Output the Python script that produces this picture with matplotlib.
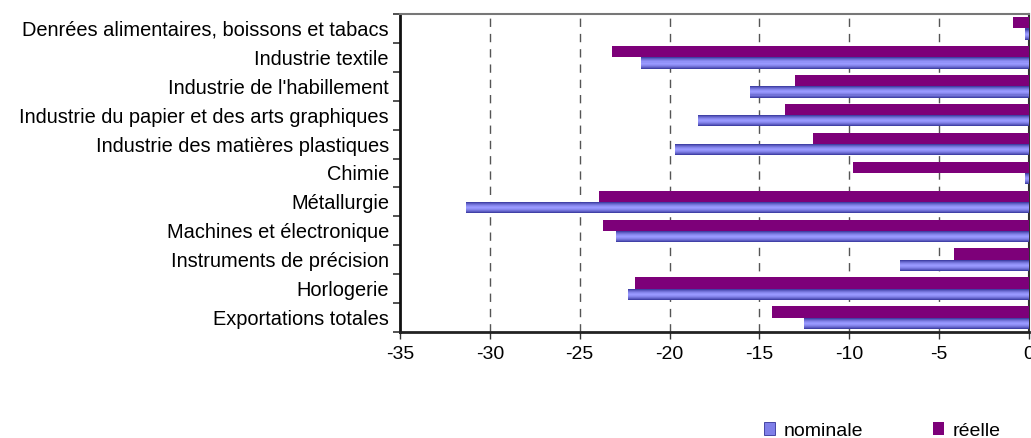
import matplotlib
matplotlib.use("Agg")
import matplotlib.pyplot as plt
import numpy as np
from matplotlib.patches import Patch
from matplotlib.colors import to_rgb

plt.rcParams['font.family'] = ['Liberation Sans', 'DejaVu Sans']

categories = [
    "Denrées alimentaires, boissons et tabacs",
    "Industrie textile",
    "Industrie de l'habillement",
    "Industrie du papier et des arts graphiques",
    "Industrie des matières plastiques",
    "Chimie",
    "Métallurgie",
    "Machines et électronique",
    "Instruments de précision",
    "Horlogerie",
    "Exportations totales",
]
nominale = [-0.23, -21.6, -15.5, -18.4, -19.7, -0.23, -31.3, -23.0, -7.2, -22.3, -12.5]
reelle = [-0.9, -23.2, -13.0, -13.6, -12.0, -9.8, -23.9, -23.7, -4.2, -21.9, -14.3]
xticks = [-35, -30, -25, -20, -15, -10, -5, 0]

fig = plt.figure(figsize=(10.31, 4.38), dpi=100)
ax = fig.add_axes([400/1031, 1-332/438, 629/1031, 318/438])

n = len(categories)
y = np.arange(n)[::-1]  # top category at highest y
h = 0.39

# réelle (top bar within group)
ax.barh(y + h/2, reelle, height=h, color="#7D0079", edgecolor="none", zorder=3)

# nominale with cylinder-like shading
dark = np.array(to_rgb("#333399"))
light = np.array(to_rgb("#9999FF"))
nstrips = 11
for i in range(nstrips):
    t = (i + 0.5) / nstrips
    w = 1 - abs(2 * t - 1) ** 1.6
    col = dark + (light - dark) * w
    ax.barh(y - h + h * i / nstrips + h / (2 * nstrips), nominale, height=h / nstrips * 1.05,
            color=col, edgecolor="none", zorder=3)

FS = 14
ax.set_xlim(-35, 0)
ax.set_ylim(-0.5, n - 0.5)
ax.set_xticks(xticks)
ax.set_xticklabels([str(v) for v in xticks], fontsize=FS)
ax.set_yticks(y)
ax.set_yticklabels(categories, fontsize=14.4)
ax.set_yticks(np.arange(n + 1) - 0.5, minor=True)
ax.tick_params(axis='y', which='major', length=0, pad=8)
ax.tick_params(axis='y', which='minor', length=5, width=1.2, color="#333333", direction='out')
ax.tick_params(axis='x', length=5, width=1, color="#333333", direction='out', pad=5)

for v in xticks[1:-1]:
    ax.axvline(v, color="#555555", linestyle=(0, (6, 5)), linewidth=1, zorder=1)

ax.spines['left'].set_linewidth(2)
ax.spines['left'].set_color("#111111")
ax.spines['bottom'].set_linewidth(2)
ax.spines['bottom'].set_color("#222222")
ax.spines['top'].set_color("#777777")
ax.spines['top'].set_linewidth(1.5)
ax.spines['right'].set_color("#333333")
ax.spines['right'].set_linewidth(1.5)

handles = [Patch(facecolor="#7F7FE8", edgecolor="#333399", linewidth=0.6),
           Patch(facecolor="#7D0079", edgecolor="none")]
fig.legend(handles, ["nominale", "réelle"], loc='center', bbox_to_anchor=(882/1031, 1-431/438),
           ncol=2, frameon=False, fontsize=FS, handlelength=0.6, handleheight=0.6,
           handletextpad=0.4, columnspacing=3.6)

fig.savefig("out.png", dpi=100)
